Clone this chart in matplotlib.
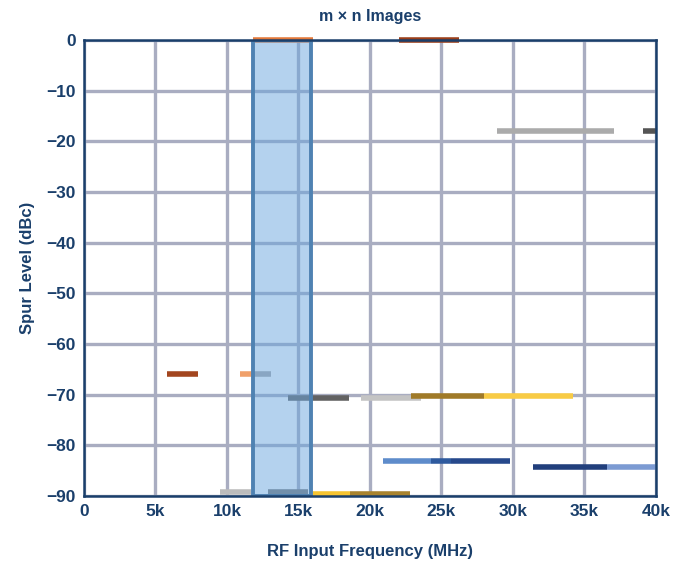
import numpy as np
import matplotlib
matplotlib.use("Agg")
from matplotlib import pyplot as plt
from matplotlib.patches import Rectangle
from matplotlib.ticker import FuncFormatter, MultipleLocator

# spur segments: start/end frequency (MHz), level (dBc)
seg_start = [11800, 22000, 28900, 39100, 5800, 10900, 11800, 14300, 19400,
             22900, 28000, 20900, 24300, 25700, 31400, 36600, 9500, 12900,
             16000, 18600]
seg_end = [16000, 26200, 37100, 40000, 8000, 11800, 13100, 18500, 23600,
           28000, 34200, 24300, 25700, 29800, 36600, 40000, 11700, 15700,
           18600, 22800]
seg_level = [0, 0, -18, -18, -66, -66, -66, -70.6, -70.6,
             -70.2, -70.2, -83, -83, -83, -84.3, -84.3, -89.2, -89.2,
             -89.6, -89.6]
seg_color = ["#e3793a", "#9c3f1a", "#ababab", "#555555", "#a3461f", "#f0a06a",
             "#a8a8a8", "#626262", "#c4c4c4", "#a07a28", "#f8cb45", "#5e8ccb",
             "#2e5a9e", "#27498c", "#213f7c", "#7c9bd3", "#bcbcbc", "#787878",
             "#f6c431", "#a8832e"]

# shaded band
band_lo = 11800
band_hi = 15900

navy = "#1a3f6b"
plt.rcParams['font.family'] = ['Liberation Sans', 'DejaVu Sans']

fig = plt.figure(figsize=(6.84, 5.67), dpi=100)
ax = fig.add_axes([0.1228, 0.1252, 0.8362, 0.8043])

ax.set_xlim(0, 40000)
ax.set_ylim(-90, 0)
ax.xaxis.set_major_locator(MultipleLocator(5000))
ax.yaxis.set_major_locator(MultipleLocator(10))
ax.xaxis.set_major_formatter(FuncFormatter(lambda v, p: "0" if v == 0 else "{:d}k".format(int(v / 1000))))
ax.grid(True, color="#a9adc1", linewidth=2.4, zorder=0)
ax.set_axisbelow(True)

for x0, x1, lv, c in zip(seg_start, seg_end, seg_level, seg_color):
    ax.plot([x0, x1], [lv, lv], color=c, linewidth=4, solid_capstyle="butt",
            zorder=3, clip_on=False)

ax.add_patch(Rectangle((band_lo, -90), band_hi - band_lo, 90,
                       facecolor=(0.42, 0.65, 0.87, 0.5),
                       edgecolor="#4f82b2", linewidth=2.8, zorder=4))

for s in ax.spines.values():
    s.set_color(navy)
    s.set_linewidth(1.8)
    s.set_zorder(5)

ax.tick_params(length=0, pad=6, labelsize=12.5, labelcolor=navy)
for lab in ax.get_xticklabels() + ax.get_yticklabels():
    lab.set_fontweight("bold")

ax.set_title("m × n Images", fontsize=11.5, fontweight="bold", color=navy, pad=14)
ax.set_xlabel("RF Input Frequency (MHz)", fontsize=12, fontweight="bold",
              color=navy, labelpad=18)
ax.set_ylabel("Spur Level (dBc)", fontsize=12, fontweight="bold",
              color=navy, labelpad=8)

fig.savefig("out.png", dpi=100)
